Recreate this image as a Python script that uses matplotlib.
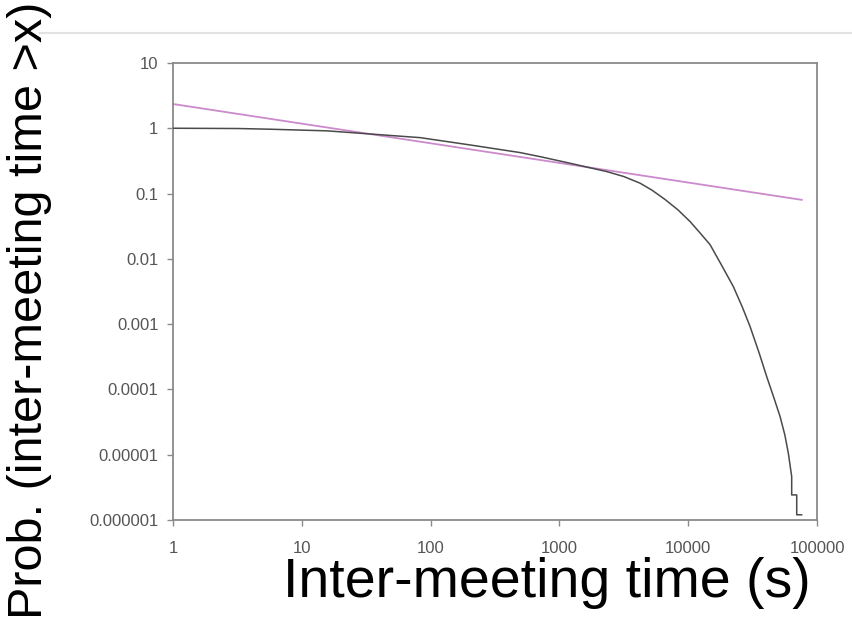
import numpy as np
import matplotlib
matplotlib.use("Agg")
import matplotlib.pyplot as plt
from matplotlib.lines import Line2D

plt.rcParams['font.family'] = ['Liberation Sans', 'DejaVu Sans']

# empirical CCDF of inter-meeting times (tail ends in a couple of steps)
time_s = [1, 3.2, 5.7, 15.7, 28.3, 82.8, 202, 494, 708, 1208, 2328, 3162,
          4227, 5248, 6607, 8318, 10330, 12300, 14760, 18200, 22390, 26300,
          30200, 35480, 40640, 45710, 51640, 56230, 59840, 63530,
          63530, 69500, 69500, 75860]
prob_gt = [1.0, 0.99, 0.966, 0.912, 0.838, 0.718, 0.555, 0.424, 0.367,
           0.291, 0.217, 0.182, 0.144, 0.112, 0.081, 0.0562, 0.0372,
           0.0251, 0.0165, 0.0079, 0.00375, 0.00182, 0.000916, 0.000363,
           0.000157, 7.94e-5, 3.83e-5, 2.0e-5, 1.05e-5, 4.62e-6,
           2.42e-6, 2.42e-6, 1.2e-6, 1.2e-6]

# power-law fit, end points
fit_x = [1, 76000]
fit_y = [2.35, 0.08]

xticks = [1, 10, 100, 1000, 10000, 100000]
xtick_labels = ["1", "10", "100", "1000", "10000", "100000"]
yticks = [1e-6, 1e-5, 1e-4, 1e-3, 1e-2, 1e-1, 1, 10]
ytick_labels = ["0.000001", "0.00001", "0.0001", "0.001", "0.01", "0.1", "1", "10"]

fig = plt.figure(figsize=(8.52, 6.27), dpi=100, facecolor='white')
ax = fig.add_axes([0.2031, 0.1707, 0.7559, 0.7289])

ax.plot(fit_x, fit_y, color='#cc8acc', linewidth=1.3, zorder=2)
ax.plot(time_s, prob_gt, color='#4a4a4a', linewidth=1.1, zorder=3)

ax.set_xscale('log')
ax.set_yscale('log')
ax.set_xlim(1, 100000)
ax.set_ylim(1e-6, 10)

ax.set_xticks(xticks)
ax.set_xticklabels(xtick_labels)
ax.set_yticks(yticks)
ax.set_yticklabels(ytick_labels)
ax.minorticks_off()

for s in ax.spines.values():
    s.set_color('#8a8a8a')
    s.set_linewidth(1.3)
ax.tick_params(axis='both', direction='out', length=4.5, width=1.0,
               color='#8a8a8a', labelcolor='#555555', labelsize=12)
ax.tick_params(axis='x', pad=11)
ax.tick_params(axis='y', pad=6)

fig.text(547 / 852, 1 - 583 / 627, "Inter-meeting time (s)",
         fontsize=40, ha='center', va='center', color='black')
fig.text(30 / 852, 1 - 310 / 627, "Prob. (inter-meeting time >x)",
         fontsize=35, ha='center', va='center', rotation=90, color='black')

# thin rule across the top
fig.add_artist(Line2D([40 / 852, 1.0], [1 - 33 / 627, 1 - 33 / 627],
                      transform=fig.transFigure, color='#e2e2e2', linewidth=1.5))

fig.savefig("out.png", dpi=100, facecolor='white')
